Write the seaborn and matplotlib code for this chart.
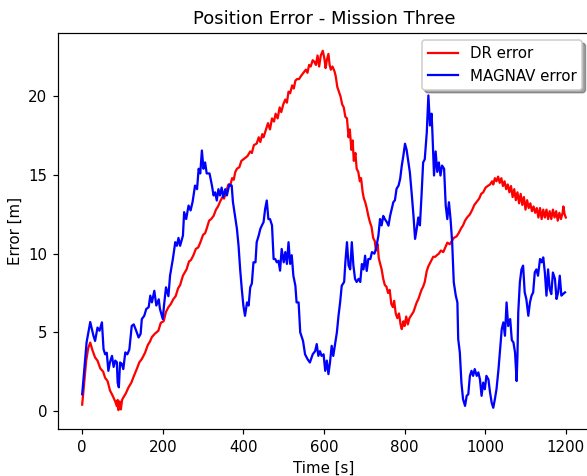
import pandas as pd
import matplotlib
matplotlib.use('Agg')
import matplotlib.pyplot as plt
import seaborn as sns

# DR error (time [s], error [m])
dr_time = [0, 5, 10, 15, 20, 25, 32, 38, 45, 52, 57, 63, 69, 75, 82, 86, 88, 90, 93, 96, 99,
           102, 108, 115, 122, 128, 136, 142, 148, 156, 163, 168, 173, 180, 189, 195, 202, 208,
           214, 220, 226, 232, 238, 243, 250, 259, 265, 270, 276, 282, 288, 293, 300, 305, 309,
           315, 320, 326, 332, 337, 342, 348, 352, 359, 363, 367, 372, 376, 380, 384, 390, 395,
           400, 405, 410, 417, 421, 426, 433, 438, 442, 447, 450, 455, 461, 466, 471, 476, 480,
           485, 490, 494, 499, 504, 508, 512, 516, 521, 525, 529, 533, 538, 543, 549, 555, 559,
           563, 567, 572, 576, 580, 584, 588, 592, 597, 601, 604, 607, 611, 614, 617, 621, 626,
           629, 633, 637, 641, 645, 649, 653, 657, 661, 664, 668, 671, 674, 678, 681, 685, 689,
           692, 696, 699, 702, 706, 710, 714, 718, 722, 726, 729, 733, 736, 740, 743, 747, 751,
           755, 759, 763, 767, 771, 774, 778, 782, 786, 790, 793, 797, 800, 804, 808, 812, 817,
           822, 826, 830, 834, 838, 842, 846, 850, 855, 859, 863, 867, 871, 876, 880, 885, 890,
           896, 901, 906, 912, 917, 922, 929, 934, 940, 945, 950, 955, 962, 968, 973, 979, 985,
           990, 995, 1001, 1006, 1012, 1017, 1020, 1024, 1028, 1032, 1036, 1040, 1044, 1048,
           1052, 1056, 1060, 1064, 1068, 1072, 1076, 1080, 1084, 1088, 1092, 1096, 1100, 1104,
           1108, 1112, 1116, 1120, 1124, 1128, 1132, 1136, 1140, 1144, 1148, 1152, 1156, 1160,
           1164, 1168, 1172, 1176, 1180, 1184, 1188, 1192, 1194, 1197, 1200]
dr_err = [0.4, 1.8, 3.2, 4.0, 4.35, 3.9, 3.4, 3.2, 2.7, 2.5, 2.1, 1.9, 1.3, 1.0, 0.6, 0.3, 0.7,
          0.05, 0.6, 0.1, 0.7, 0.85, 1.1, 1.5, 1.8, 2.2, 2.7, 3.1, 3.3, 3.7, 4.2, 4.4, 4.7, 4.9,
          5.1, 5.6, 5.7, 6.3, 6.6, 6.8, 7.1, 7.3, 7.8, 8.0, 8.6, 9.0, 9.5, 9.6, 9.9, 10.3, 10.4,
          10.7, 11.2, 11.3, 11.6, 12.1, 12.2, 12.4, 12.8, 13.0, 13.3, 13.6, 13.5, 14.1, 14.4,
          14.3, 14.8, 14.7, 15.2, 15.4, 15.5, 15.9, 16.0, 16.1, 16.2, 16.5, 16.4, 16.9, 17.0,
          17.4, 17.1, 17.6, 17.4, 17.8, 18.3, 17.9, 18.6, 18.4, 18.9, 18.6, 19.3, 19.0, 19.5,
          19.8, 19.6, 20.3, 20.2, 20.7, 20.5, 21.0, 21.1, 21.1, 21.3, 21.5, 21.7, 21.5, 22.0,
          21.9, 22.3, 22.2, 22.0, 22.6, 21.9, 22.6, 22.9, 22.4, 21.8, 22.3, 22.7, 22.0, 21.7,
          21.9, 21.6, 21.3, 20.6, 20.3, 20.0, 19.5, 19.3, 18.7, 18.6, 17.4, 17.9, 16.6, 17.2,
          15.9, 16.4, 15.4, 15.2, 14.6, 14.8, 13.9, 13.5, 13.3, 12.9, 12.4, 12.0, 11.7, 11.0,
          10.8, 10.2, 10.6, 9.7, 9.3, 9.0, 8.4, 8.0, 7.9, 7.5, 7.7, 6.8, 6.6, 7.0, 6.2, 5.9, 6.2,
          5.5, 5.2, 5.7, 5.4, 6.0, 5.5, 5.9, 6.1, 6.3, 6.6, 6.9, 7.1, 7.4, 7.7, 7.9, 8.2, 8.9,
          9.2, 9.4, 9.6, 9.8, 9.8, 9.9, 10.0, 10.2, 10.1, 10.4, 10.7, 10.6, 10.8, 11.0, 11.1,
          11.3, 11.6, 11.8, 12.1, 12.3, 12.5, 12.8, 13.1, 13.3, 13.5, 13.8, 13.9, 14.2, 14.3,
          14.4, 14.6, 14.4, 14.8, 14.6, 14.9, 14.5, 14.8, 14.3, 14.6, 14.1, 14.4, 13.9, 14.3,
          13.6, 14.1, 13.4, 13.9, 13.2, 13.8, 13.1, 13.6, 12.8, 13.4, 12.9, 13.2, 12.7, 13.0,
          12.6, 12.9, 12.3, 12.9, 12.2, 12.8, 12.3, 12.8, 12.2, 12.7, 12.2, 12.8, 12.3, 12.7,
          12.1, 12.6, 12.2, 12.6, 13.0, 12.5, 12.3]

# MAGNAV error (time [s], error [m])
mag_time = [0, 11, 20, 28, 32, 38, 43, 49, 53, 57, 61, 65, 69, 74, 78, 82, 86, 88, 91, 94, 98,
            102, 107, 112, 117, 123, 128, 134, 140, 145, 148, 154, 159, 165, 169, 173, 179, 184,
            190, 193, 200, 203, 208, 214, 218, 225, 231, 235, 239, 243, 250, 253, 258, 264, 269,
            274, 280, 285, 289, 293, 297, 301, 305, 309, 316, 322, 326, 330, 334, 338, 342, 346,
            350, 355, 359, 365, 371, 374, 379, 384, 388, 392, 396, 400, 404, 409, 413, 417, 421,
            425, 430, 433, 438, 442, 446, 450, 454, 458, 462, 466, 471, 475, 479, 483, 487, 491,
            495, 500, 504, 508, 512, 516, 520, 524, 529, 532, 537, 541, 548, 553, 559, 565, 572,
            578, 582, 586, 590, 594, 599, 603, 607, 611, 615, 619, 623, 628, 632, 636, 640, 644,
            650, 653, 657, 661, 665, 669, 673, 677, 681, 686, 690, 694, 698, 702, 706, 710, 715,
            719, 725, 729, 735, 739, 743, 747, 751, 756, 760, 764, 768, 772, 776, 780, 785, 789,
            793, 797, 801, 805, 809, 813, 818, 822, 826, 830, 834, 838, 842, 846, 850, 855, 859,
            863, 867, 869, 873, 877, 881, 885, 889, 893, 898, 902, 906, 910, 914, 918, 922, 927,
            931, 933, 937, 941, 945, 950, 954, 958, 962, 966, 970, 974, 979, 983, 987, 991, 995,
            999, 1003, 1008, 1012, 1016, 1020, 1024, 1028, 1033, 1037, 1041, 1045, 1049, 1053,
            1057, 1062, 1066, 1070, 1074, 1078, 1080, 1082, 1086, 1090, 1094, 1098, 1102, 1107,
            1111, 1115, 1119, 1123, 1127, 1131, 1136, 1140, 1144, 1148, 1152, 1156, 1160, 1164,
            1168, 1173, 1177, 1181, 1185, 1189, 1193, 1198]
mag_err = [1.06, 4.37, 5.65, 4.78, 4.45, 5.3, 5.1, 5.63, 3.93, 3.6, 3.7, 2.55, 3.1, 3.5, 2.8,
           3.2, 3.1, 1.8, 1.5, 3.08, 3.0, 2.66, 3.72, 3.6, 3.9, 5.41, 5.5, 5.1, 4.67, 4.9, 5.84,
           6.05, 6.48, 6.6, 7.33, 6.9, 7.64, 6.7, 7.1, 6.48, 5.84, 6.7, 7.86, 7.3, 8.6, 9.66,
           10.73, 10.5, 11.0, 10.5, 11.15, 12.64, 12.2, 13.06, 12.75, 13.3, 14.33, 14.1, 15.4,
           15.1, 16.56, 15.4, 15.8, 15.1, 15.1, 14.33, 13.7, 13.9, 13.38, 14.1, 13.7, 14.2, 13.6,
           14.1, 13.7, 14.4, 14.33, 13.3, 12.42, 11.57, 10.5, 9.0, 7.75, 6.69, 6.05, 6.9, 6.7,
           7.86, 8.1, 9.45, 9.45, 10.73, 11.15, 11.57, 11.8, 12.0, 12.85, 13.38, 12.2, 12.2, 11.8,
           9.66, 9.66, 9.45, 9.55, 8.92, 10.3, 9.45, 10.1, 9.35, 10.73, 9.35, 9.9, 8.6, 7.96, 6.9,
           6.9, 5.0, 4.45, 3.6, 3.3, 3.08, 3.6, 3.8, 4.25, 3.5, 3.8, 3.5, 3.6, 2.55, 3.2, 2.34,
           3.1, 4.14, 3.5, 4.35, 5.0, 6.05, 6.9, 7.96, 8.2, 9.45, 10.73, 9.25, 9.0, 10.73, 9.24,
           8.4, 8.2, 8.4, 8.2, 9.34, 9.0, 9.87, 8.9, 9.66, 9.66, 10.1, 10.0, 10.3, 11.15, 12.2,
           11.8, 12.4, 12.2, 12.0, 11.78, 12.4, 12.85, 13.27, 13.4, 14.12, 14.33, 14.76, 15.6,
           16.24, 16.99, 16.6, 15.9, 15.18, 13.7, 12.42, 10.94, 11.57, 12.3, 11.8, 13.7, 15.8,
           16.0, 17.7, 20.06, 18.15, 18.9, 17.7, 14.97, 16.5, 15.2, 15.8, 14.97, 15.6, 15.4,
           13.06, 12.2, 13.27, 12.2, 10.73, 8.18, 7.33, 6.9, 4.57, 3.72, 1.8, 0.75, 0.32, 0.96,
           1.06, 2.23, 2.55, 2.23, 2.66, 2.23, 2.45, 2.0, 0.96, 1.8, 1.38, 2.23, 2.0, 1.17, 0.53,
           0.2, 0.75, 1.38, 2.66, 3.93, 5.2, 5.63, 4.78, 6.9, 5.4, 5.84, 4.5, 4.36, 3.72, 1.9,
           3.5, 6.27, 8.18, 9.0, 9.24, 7.54, 7.12, 6.05, 6.9, 7.33, 7.54, 8.81, 9.0, 8.6, 9.66,
           9.45, 9.76, 8.8, 7.33, 9.0, 7.75, 7.43, 8.8, 8.4, 7.12, 7.54, 8.6, 7.33, 7.43, 7.54]

dr = pd.DataFrame({'t': dr_time, 'err': dr_err})
mag = pd.DataFrame({'t': mag_time, 'err': mag_err})

# slightly larger dpi so text and lines come out a bit bigger, as in the original
fig = plt.figure(figsize=(587 / 108, 476 / 108), dpi=108)
ax = fig.add_axes([0.0988, 0.0987, 0.9063, 0.8326])

sns.lineplot(data=dr, x='t', y='err', color='red', linewidth=1.5, estimator=None,
             sort=False, label='DR error', ax=ax)
sns.lineplot(data=mag, x='t', y='err', color='blue', linewidth=1.5, estimator=None,
             sort=False, label='MAGNAV error', ax=ax)

ax.set_xlim(-60, 1260)
ax.set_ylim(-1.15, 24.05)
ax.set_xticks([0, 200, 400, 600, 800, 1000, 1200])
ax.set_yticks([0, 5, 10, 15, 20])
ax.set_xlabel('Time [s]')
ax.set_ylabel('Error [m]')
ax.set_title('Position Error - Mission Three')
ax.legend(loc='upper right', shadow=True)

fig.savefig('out.png', dpi=108)
